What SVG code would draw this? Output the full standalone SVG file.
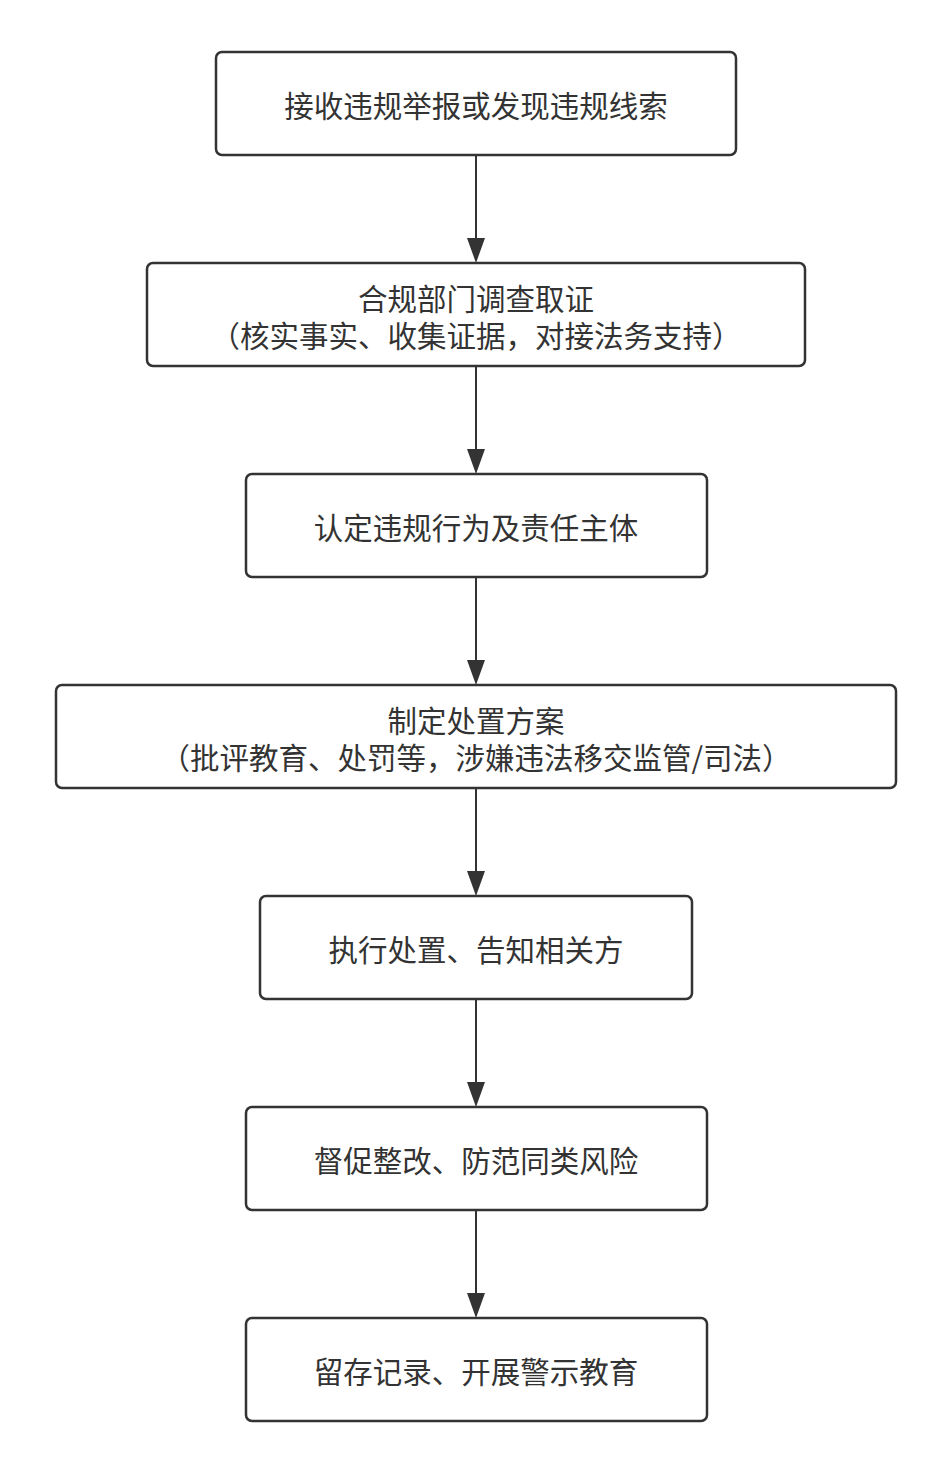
<svg xmlns="http://www.w3.org/2000/svg" width="952" height="1473" viewBox="0 0 952 1473">
<style>
.n rect{fill:#fff;stroke:#333;stroke-width:2.5}
.n text{font-family:"Noto Sans CJK SC",sans-serif;font-size:29.5px;fill:#333;text-anchor:middle;dominant-baseline:central}
.c line{stroke:#333;stroke-width:2}
.c path{fill:#333}
</style>
<rect width="952" height="1473" fill="#fff"/>
<g class="c">
<line x1="476" y1="155" x2="476" y2="240"/><path d="M467,238L476,263L485,238z"/>
<line x1="476" y1="366" x2="476" y2="451"/><path d="M467,449L476,474L485,449z"/>
<line x1="476" y1="577" x2="476" y2="662"/><path d="M467,660L476,685L485,660z"/>
<line x1="476" y1="788" x2="476" y2="873"/><path d="M467,871L476,896L485,871z"/>
<line x1="476" y1="999" x2="476" y2="1084"/><path d="M467,1082L476,1107L485,1082z"/>
<line x1="476" y1="1210" x2="476" y2="1295"/><path d="M467,1293L476,1318L485,1293z"/>
</g>
<g id="n1" class="n"><rect x="216" y="52" width="520" height="103" rx="6"/><text x="476" y="104">接收违规举报或发现违规线索</text></g>
<g id="n2" class="n"><rect x="147" y="263" width="658" height="103" rx="6"/><text x="476" y="297">合规部门调查取证</text><text x="476" y="334">（核实事实、收集证据，对接法务支持）</text></g>
<g id="n3" class="n"><rect x="246" y="474" width="461" height="103" rx="6"/><text x="476" y="526">认定违规行为及责任主体</text></g>
<g id="n4" class="n"><rect x="56" y="685" width="840" height="103" rx="6"/><text x="476" y="719">制定处置方案</text><text x="476" y="756">（批评教育、处罚等，涉嫌违法移交监管/司法）</text></g>
<g id="n5" class="n"><rect x="260" y="896" width="432" height="103" rx="6"/><text x="476" y="948">执行处置、告知相关方</text></g>
<g id="n6" class="n"><rect x="246" y="1107" width="461" height="103" rx="6"/><text x="476" y="1159">督促整改、防范同类风险</text></g>
<g id="n7" class="n"><rect x="246" y="1318" width="461" height="103" rx="6"/><text x="476" y="1370">留存记录、开展警示教育</text></g>
</svg>
